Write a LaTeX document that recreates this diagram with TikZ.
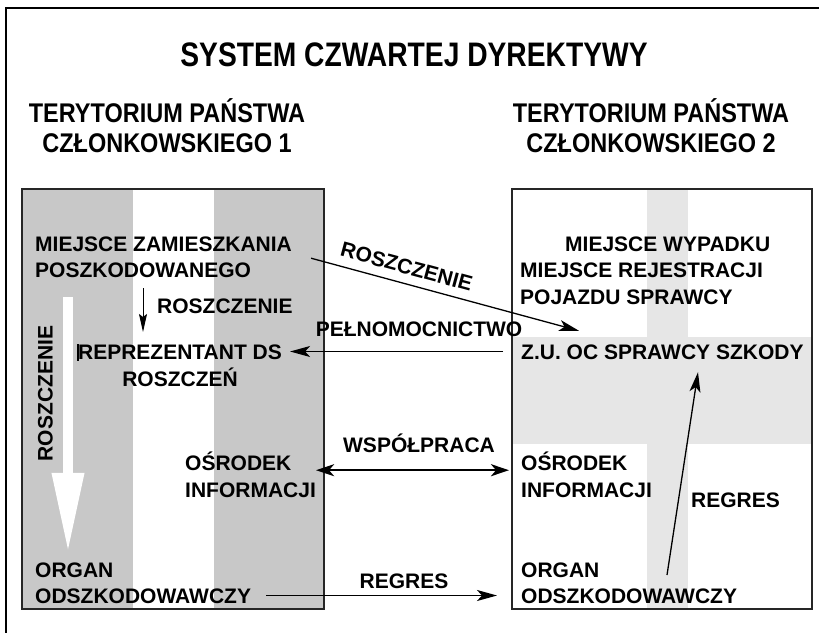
\documentclass[tikz,border=0pt]{standalone}
\usepackage{fontspec}
\setmainfont{Liberation Sans}
\usetikzlibrary{arrows.meta}
\definecolor{bandgray}{RGB}{200,200,200}
\definecolor{crossgray}{RGB}{230,230,230}
\newcommand\txtfont{\fontsize{21}{25}\selectfont\bfseries}
\newcommand\headfont{\fontsize{27}{32}\selectfont\bfseries}

\begin{document}
\begin{tikzpicture}[x=1pt, y=-1pt,
    txt/.style={font=\txtfont, inner sep=0pt, text height=15pt, text depth=0pt, anchor=base west},
    head/.style={font=\headfont, inner sep=0pt, anchor=base},
    arr/.style={line width=1.3pt, -{Stealth[length=20pt,width=11pt,inset=5pt]}},
    boxline/.style={line width=1.4pt, draw=black!85}]
    \useasboundingbox (0,0) rectangle (819,632);
    % frame
    \draw[line width=1.4pt] (6,640) -- (6,8) -- (830,8);
    % state 1
    \fill[bandgray] (22,189) rectangle (133,609);
    \fill[bandgray] (214,189) rectangle (324,609);
    \draw[boxline] (22,189) rectangle (324,609);
    % state 2
    \fill[crossgray] (647,189) rectangle (688,609);
    \fill[crossgray] (512,337) rectangle (812,444);
    \draw[boxline] (512,189) rectangle (812,609);
    % headings
    \node[font=\fontsize{34}{40}\selectfont\bfseries, inner sep=0pt, anchor=base] (title) at (414,66) {\scalebox{0.83}[1]{SYSTEM CZWARTEJ DYREKTYWY}};
    \node[head] (terL1) at (167,122) {\scalebox{0.87}[1]{TERYTORIUM PAŃSTWA}};
    \node[head] (terL2) at (167,152) {\scalebox{0.87}[1]{CZŁONKOWSKIEGO 1}};
    \node[head] (terR1) at (651,122) {\scalebox{0.87}[1]{TERYTORIUM PAŃSTWA}};
    \node[head] (terR2) at (651,152) {\scalebox{0.87}[1]{CZŁONKOWSKIEGO 2}};
    % left texts
    \node[txt] (zam1) at (35,251) {MIEJSCE ZAMIESZKANIA};
    \node[txt] (zam2) at (35,277) {POSZKODOWANEGO};
    \node[txt] (roszS) at (157,313) {ROSZCZENIE};
    \node[txt, anchor=base] (repr1) at (180,359) {REPREZENTANT DS};
    \node[txt, anchor=base] (repr2) at (180,386) {ROSZCZEŃ};
    \node[txt] (osr1) at (185,470) {OŚRODEK};
    \node[txt] (info1) at (185,497) {INFORMACJI};
    \node[txt] (org1) at (35,577) {ORGAN};
    \node[txt] (odsz1) at (35,603) {ODSZKODOWAWCZY};
    \node[txt, anchor=center, rotate=90] (roszV) at (45,393.5) {ROSZCZENIE};
    \draw[line width=1.6pt] (78,344) -- (78,361);
    % right texts
    \node[txt] (wyp) at (565,251) {MIEJSCE WYPADKU};
    \node[txt] (rej) at (520,277) {MIEJSCE REJESTRACJI};
    \node[txt] (poj) at (520,304) {POJAZDU SPRAWCY};
    \node[txt] (zu) at (521,359) {Z.U. OC SPRAWCY SZKODY};
    \node[txt] (osr2) at (521,470) {OŚRODEK};
    \node[txt] (info2) at (521,497) {INFORMACJI};
    \node[txt] (org2) at (521,577) {ORGAN};
    \node[txt] (odsz2) at (521,603) {ODSZKODOWAWCZY};
    % labels between
    \node[txt, anchor=base] (pel) at (419,336) {PEŁNOMOCNICTWO};
    \node[txt, anchor=base] (wsp) at (419,452) {WSPÓŁPRACA};
    \node[txt, anchor=base] (regL) at (404,588) {REGRES};
    \node[txt] (regR) at (691,507) {REGRES};
    % arrows
    \draw[white, line width=10pt, -{Triangle[length=80pt,width=30pt]}] ([xshift=33pt,yshift=-20pt]zam2.south west) -- ([xshift=33pt,yshift=9pt]org1.north west);
    \draw[line width=1pt, -{Stealth[length=18pt,width=8pt,inset=3pt]}] ([xshift=-14pt,yshift=25pt]roszS.base west) -- ([xshift=-14pt,yshift=-19pt]roszS.base west);
    \draw[arr] ([xshift=19pt,yshift=-7pt]zam1.south east) -- node[txt, sloped, above, pos=0.34, inner ysep=9pt] (roszD) {ROSZCZENIE} ([xshift=58pt,yshift=13pt]zu.north west);
    \draw[arr, shorten <=18pt, shorten >=8pt] (zu.west) -- (zu.west -| repr1.east);
    \draw[line width=2.4pt, {Stealth[length=18pt,width=12pt,inset=5pt]}-{Stealth[length=18pt,width=12pt,inset=5pt]}, shorten >=12pt] (info1.east |- osr1.south) -- (osr2.south west);
    \draw[arr, line width=1.8pt, shorten <=15pt, shorten >=24pt] (odsz1.east) -- (odsz2.west);
    \draw[arr] ([xshift=146pt,yshift=2pt]org2.base west) -- ([xshift=177pt,yshift=-13pt]zu.south west);
\end{tikzpicture}
\end{document}
